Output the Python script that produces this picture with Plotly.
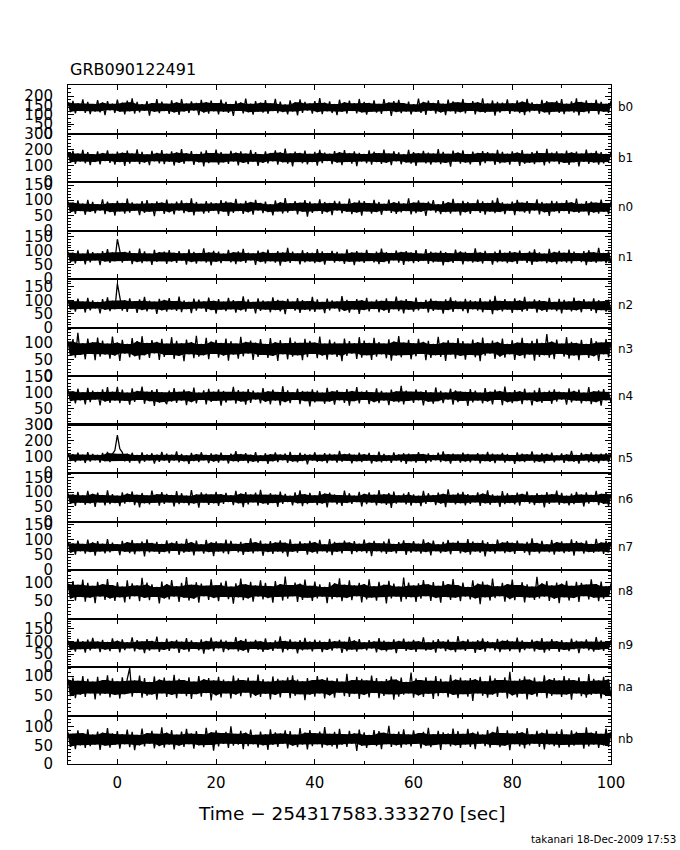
import numpy as np
import plotly.graph_objects as go
from plotly.subplots import make_subplots

title = "GRB090122491"
x_title = "Time − 254317583.333270 [sec]"
footer = "takanari 18-Dec-2009 17:53"

detectors = ["b0", "b1", "n0", "n1", "n2", "n3", "n4", "n5", "n6", "n7", "n8", "n9", "na", "nb"]
t_start = -10.0   # first bin time [s]
t_bin = 0.5       # bin width [s]

b0 = [168, 115, 175, 108, 162, 121, 183, 111, 170, 104, 158, 118, 179, 113, 166, 99, 173, 124, 160, 110,
      181, 117, 165, 102, 176, 119, 188, 107, 169, 114, 157, 122, 174, 96, 163, 116, 184, 109, 171, 120,
      159, 105, 178, 113, 167, 100, 185, 118, 161, 110, 172, 123, 164, 98, 180, 112, 168, 106, 176, 119,
      163, 103, 182, 116, 170, 111, 158, 94, 175, 121, 166, 108, 187, 114, 160, 101, 173, 117, 165, 112,
      179, 106, 162, 120, 186, 109, 171, 115, 156, 102, 177, 118, 167, 97, 183, 111, 169, 123, 161, 107,
      174, 114, 190, 104, 165, 119, 172, 110, 158, 99, 181, 116, 168, 106, 176, 121, 162, 108, 185, 113,
      170, 101, 164, 117, 178, 112, 159, 105, 184, 120, 166, 95, 173, 115, 180, 109, 163, 118, 171, 103,
      157, 116, 187, 110, 169, 100, 176, 122, 164, 107, 179, 113, 160, 98, 182, 119, 172, 106, 167, 114,
      185, 108, 163, 121, 174, 103, 168, 115, 189, 111, 161, 117, 177, 96, 170, 112, 165, 120, 183, 105,
      162, 118, 178, 109, 171, 99, 186, 114, 166, 122, 158, 106, 180, 113, 173, 101, 167, 117, 175, 110,
      184, 104, 160, 119, 172, 112, 188, 97, 169, 115, 177, 108, 164, 121, 181, 102, 170, 116, 159, 111,
      176]

b1 = [182, 121, 193, 112, 176, 127, 199, 116, 185, 104, 172, 124, 190, 109, 179, 130, 196, 118, 174, 107,
      188, 123, 181, 99, 194, 114, 177, 126, 202, 111, 186, 120, 171, 105, 192, 128, 180, 115, 197, 110,
      175, 125, 189, 102, 183, 119, 204, 113, 178, 129, 191, 106, 173, 122, 187, 97, 195, 117, 179, 124,
      200, 108, 184, 121, 174, 112, 193, 127, 181, 103, 189, 118, 176, 110, 198, 125, 185, 100, 172, 119,
      190, 115, 179, 128, 196, 107, 183, 122, 206, 113, 177, 96, 188, 126, 180, 116, 194, 109, 174, 123,
      186, 101, 199, 117, 182, 130, 175, 111, 191, 120, 184, 105, 197, 124, 178, 114, 189, 98, 180, 127,
      173, 116, 195, 108, 187, 123, 179, 112, 201, 119, 176, 104, 190, 128, 183, 110, 172, 121, 198, 114,
      185, 99, 178, 125, 192, 115, 181, 107, 176, 122, 203, 111, 187, 118, 174, 95, 194, 126, 182, 113,
      196, 120, 173, 109, 188, 124, 180, 102, 191, 117, 184, 129, 177, 106, 199, 115, 186, 121, 175, 108,
      189, 126, 182, 100, 197, 113, 174, 119, 185, 110, 193, 123, 179, 103, 205, 116, 181, 127, 190, 111,
      177, 118, 194, 106, 183, 122, 188, 97, 176, 125, 200, 112, 180, 120, 192, 108, 185, 115, 173, 124,
      187]

n0 = [96, 60, 92, 55, 99, 64, 89, 52, 101, 62, 94, 57, 87, 66, 103, 54, 95, 61, 90, 49,
      98, 63, 91, 56, 105, 59, 93, 65, 88, 51, 97, 58, 100, 62, 90, 47, 96, 64, 92, 55,
      102, 60, 89, 53, 95, 66, 99, 57, 91, 61, 106, 50, 94, 63, 88, 56, 97, 59, 93, 65,
      90, 54, 100, 62, 96, 48, 92, 58, 104, 64, 89, 55, 98, 60, 94, 52, 101, 66, 91, 57,
      95, 61, 87, 50, 99, 63, 93, 56, 107, 59, 90, 65, 97, 53, 92, 62, 100, 46, 95, 58,
      89, 64, 103, 55, 94, 60, 91, 51, 98, 66, 96, 57, 88, 62, 105, 54, 92, 59, 99, 49,
      97, 63, 90, 56, 101, 61, 94, 52, 88, 65, 102, 58, 93, 55, 96, 60, 89, 64, 106, 53,
      92, 57, 99, 62, 91, 48, 95, 66, 100, 59, 87, 54, 97, 61, 93, 56, 104, 63, 90, 50,
      98, 60, 94, 55, 89, 64, 102, 58, 96, 52, 91, 62, 99, 57, 108, 61, 93, 54, 88, 65,
      95, 51, 101, 63, 92, 59, 97, 56, 90, 66, 103, 53, 94, 60, 89, 48, 98, 62, 96, 57,
      91, 64, 100, 55, 93, 61, 105, 58, 88, 63, 97, 50, 95, 59, 92, 56, 102, 62, 90, 54,
      96]

n1 = [97, 61, 93, 55, 101, 64, 90, 52, 104, 59, 95, 66, 91, 49, 99, 62, 106, 57, 94, 63,
      141, 104, 58, 96, 65, 100, 53, 92, 60, 108, 56, 98, 63, 90, 50, 103, 61, 95, 64, 97,
      54, 102, 62, 93, 57, 99, 65, 91, 51, 105, 60, 96, 55, 92, 63, 109, 58, 94, 48, 100,
      61, 97, 56, 90, 64, 103, 59, 95, 53, 98, 62, 107, 57, 93, 66, 91, 50, 101, 60, 96,
      55, 104, 63, 92, 58, 99, 47, 94, 61, 110, 57, 97, 64, 91, 52, 102, 59, 95, 62, 93,
      56, 106, 60, 98, 51, 92, 65, 100, 58, 96, 63, 90, 54, 105, 61, 94, 49, 99, 62, 93,
      57, 103, 64, 91, 59, 97, 53, 108, 60, 95, 55, 92, 66, 101, 58, 96, 50, 99, 63, 94,
      56, 102, 61, 90, 65, 106, 54, 97, 59, 93, 62, 100, 48, 95, 60, 91, 57, 104, 64, 98,
      52, 96, 63, 92, 58, 109, 61, 94, 55, 100, 64, 91, 51, 97, 59, 103, 62, 93, 56, 99,
      60, 95, 54, 101, 65, 92, 57, 98, 50, 105, 61, 94, 63, 90, 56, 107, 59, 96, 53, 100,
      62, 93, 58, 104, 55, 97, 64, 91, 60, 99, 49, 102, 61, 95, 57, 110, 63, 92, 56, 98,
      60]

n2 = [101, 66, 97, 58, 106, 68, 95, 55, 109, 63, 99, 70, 94, 52, 104, 65, 111, 60, 98, 67,
      161, 118, 62, 100, 57, 107, 69, 96, 54, 103, 64, 112, 59, 98, 67, 95, 50, 105, 63, 101,
      58, 108, 66, 97, 61, 113, 56, 99, 68, 94, 53, 106, 62, 102, 70, 96, 57, 110, 64, 98,
      51, 104, 65, 95, 60, 109, 67, 100, 55, 97, 63, 114, 58, 103, 69, 94, 52, 107, 61, 99,
      66, 96, 56, 111, 64, 101, 59, 98, 49, 105, 68, 95, 62, 108, 54, 100, 65, 97, 60, 112,
      57, 103, 67, 94, 53, 106, 63, 99, 70, 96, 58, 115, 61, 101, 55, 97, 66, 104, 50, 100,
      64, 109, 59, 95, 68, 102, 56, 98, 62, 107, 54, 96, 67, 113, 60, 99, 52, 104, 65, 97,
      58, 110, 63, 94, 69, 101, 55, 106, 61, 98, 66, 96, 51, 103, 64, 111, 57, 99, 68, 95,
      60, 105, 53, 100, 67, 97, 62, 108, 56, 95, 65, 102, 49, 116, 63, 98, 59, 104, 66, 96,
      54, 107, 64, 99, 58, 112, 61, 95, 69, 103, 55, 100, 62, 97, 57, 109, 66, 94, 60, 105,
      52, 101, 65, 96, 59, 110, 63, 98, 56, 104, 68, 95, 61, 107, 53, 100, 64, 97, 58, 102,
      62]

n3 = [103, 60, 110, 55, 129, 63, 98, 50, 112, 66, 101, 47, 115, 58, 106, 64, 97, 52, 118, 61,
      100, 45, 108, 67, 96, 56, 113, 59, 104, 49, 119, 62, 99, 54, 107, 68, 102, 48, 111, 57,
      97, 63, 116, 51, 105, 60, 98, 44, 109, 65, 101, 53, 120, 58, 96, 62, 114, 50, 103, 66,
      108, 55, 99, 61, 112, 46, 104, 64, 97, 52, 117, 59, 102, 67, 106, 48, 100, 57, 110, 63,
      96, 54, 113, 60, 101, 45, 107, 65, 98, 50, 115, 58, 103, 62, 99, 47, 111, 56, 105, 66,
      100, 53, 118, 61, 97, 49, 109, 64, 102, 57, 96, 44, 112, 60, 104, 67, 98, 51, 116, 55,
      106, 62, 99, 48, 114, 58, 101, 65, 97, 53, 110, 46, 103, 61, 119, 56, 100, 63, 108, 50,
      98, 59, 111, 66, 102, 47, 105, 54, 96, 62, 117, 57, 100, 45, 107, 64, 99, 52, 113, 60,
      104, 49, 97, 63, 109, 56, 101, 44, 115, 61, 98, 67, 106, 51, 102, 58, 112, 55, 96, 65,
      107, 48, 100, 60, 114, 53, 98, 64, 105, 46, 111, 57, 99, 62, 125, 55, 103, 50, 109, 66,
      97, 58, 116, 52, 102, 61, 99, 47, 108, 63, 96, 54, 113, 59, 104, 45, 100, 65, 110, 56,
      101]

n4 = [108, 73, 104, 66, 112, 76, 101, 63, 115, 70, 106, 78, 102, 60, 110, 72, 117, 68, 103, 75,
      118, 67, 109, 74, 100, 62, 113, 71, 105, 77, 119, 65, 103, 73, 108, 58, 111, 69, 101, 76,
      64, 106, 72, 114, 68, 102, 75, 109, 61, 104, 70, 116, 66, 100, 77, 107, 63, 112, 71, 103,
      74, 110, 59, 105, 69, 101, 76, 118, 65, 108, 72, 103, 62, 111, 68, 106, 78, 100, 66, 114,
      71, 104, 63, 109, 75, 102, 60, 120, 70, 107, 67, 101, 77, 112, 64, 105, 73, 103, 57, 110,
      69, 106, 74, 100, 65, 115, 72, 104, 62, 108, 76, 102, 68, 111, 59, 105, 73, 117, 66, 103,
      77, 107, 64, 101, 70, 113, 67, 105, 75, 100, 61, 109, 72, 104, 69, 121, 63, 106, 74, 102,
      68, 110, 76, 103, 60, 108, 71, 101, 65, 116, 73, 105, 67, 100, 78, 112, 62, 107, 70, 104,
      74, 102, 58, 111, 69, 106, 75, 100, 66, 114, 72, 103, 63, 109, 77, 105, 61, 119, 70, 101,
      67, 108, 73, 104, 64, 112, 76, 100, 60, 107, 71, 115, 68, 102, 74, 106, 65, 110, 72, 103,
      78, 101, 62, 113, 69, 105, 75, 109, 66, 100, 73, 117, 64, 104, 70, 107, 59, 111, 76, 102,
      68]

n5 = [121, 74, 116, 68, 126, 77, 113, 62, 129, 71, 118, 79, 112, 65, 124, 73, 131, 67, 117, 140,
      235, 150, 128, 72, 119, 64, 125, 76, 111, 60, 127, 70, 115, 78, 122, 58, 114, 69, 130, 75,
      120, 63, 113, 77, 133, 66, 118, 72, 110, 56, 124, 74, 116, 68, 128, 79, 112, 61, 121, 71,
      115, 65, 126, 78, 111, 59, 119, 73, 135, 67, 117, 76, 123, 62, 113, 70, 129, 64, 110, 75,
      122, 57, 116, 72, 127, 68, 114, 79, 120, 63, 131, 71, 112, 66, 125, 74, 118, 54, 115, 77,
      128, 69, 111, 73, 123, 61, 119, 78, 114, 65, 136, 70, 117, 75, 121, 60, 113, 72, 126, 67,
      116, 76, 124, 59, 112, 71, 132, 66, 118, 74, 110, 63, 127, 77, 115, 68, 122, 56, 119, 72,
      114, 65, 129, 75, 117, 62, 121, 70, 111, 79, 125, 67, 134, 73, 116, 58, 120, 76, 113, 64,
      126, 71, 118, 66, 112, 77, 123, 60, 115, 73, 130, 69, 119, 62, 114, 78, 124, 65, 117, 74,
      111, 57, 127, 72, 120, 68, 116, 76, 133, 64, 113, 70, 122, 61, 118, 75, 125, 67, 110, 79,
      121, 63, 115, 73, 137, 69, 112, 58, 124, 77, 117, 66, 128, 71, 114, 62, 119, 76, 123, 68,
      116]

n6 = [96, 60, 92, 53, 101, 64, 89, 57, 104, 62, 94, 50, 98, 65, 90, 55, 106, 59, 93, 63,
      88, 52, 99, 61, 95, 66, 102, 56, 91, 48, 97, 62, 89, 58, 105, 64, 93, 54, 100, 60,
      94, 65, 90, 51, 103, 59, 96, 63, 88, 55, 107, 61, 92, 47, 99, 64, 95, 57, 91, 62,
      101, 53, 93, 60, 97, 66, 89, 56, 104, 62, 95, 49, 100, 58, 92, 65, 98, 54, 108, 61,
      90, 57, 96, 63, 91, 50, 102, 60, 94, 66, 88, 55, 99, 62, 106, 52, 93, 59, 97, 64,
      89, 56, 103, 61, 95, 48, 98, 65, 92, 58, 90, 53, 105, 63, 96, 60, 88, 66, 101, 51,
      94, 59, 99, 64, 91, 55, 107, 62, 93, 57, 97, 46, 102, 61, 89, 65, 95, 58, 100, 54,
      92, 63, 88, 52, 104, 60, 96, 66, 90, 56, 98, 61, 94, 49, 109, 64, 91, 58, 97, 62,
      101, 55, 93, 60, 89, 65, 99, 53, 95, 62, 106, 57, 92, 64, 88, 50, 103, 59, 96, 63,
      90, 58, 98, 54, 94, 66, 102, 61, 89, 56, 96, 63, 91, 48, 100, 60, 93, 65, 105, 57,
      97, 62, 88, 55, 95, 59, 101, 64, 92, 51, 99, 61, 90, 66, 104, 56, 94, 60, 98, 53,
      93]

n7 = [93, 57, 88, 51, 97, 62, 86, 54, 100, 59, 91, 47, 95, 61, 87, 55, 102, 58, 90, 63,
      85, 49, 96, 60, 92, 56, 99, 52, 88, 62, 94, 45, 101, 58, 89, 61, 93, 53, 86, 59,
      98, 55, 90, 63, 95, 50, 87, 57, 103, 60, 92, 48, 97, 62, 85, 54, 99, 59, 91, 46,
      94, 61, 88, 56, 100, 52, 96, 63, 86, 58, 93, 50, 89, 60, 104, 55, 92, 62, 97, 47,
      87, 59, 95, 53, 91, 61, 98, 56, 90, 44, 101, 60, 86, 57, 94, 63, 88, 51, 96, 58,
      92, 54, 99, 62, 85, 57, 102, 49, 93, 60, 89, 55, 97, 63, 91, 52, 95, 59, 87, 61,
      100, 56, 90, 46, 96, 62, 88, 58, 94, 53, 103, 60, 86, 55, 92, 63, 98, 50, 89, 57,
      95, 61, 87, 54, 101, 59, 91, 48, 97, 62, 85, 56, 93, 60, 99, 52, 90, 63, 96, 55,
      88, 58, 102, 51, 94, 61, 89, 57, 98, 45, 92, 60, 86, 54, 100, 62, 91, 56, 95, 59,
      90, 53, 97, 63, 87, 57, 93, 49, 104, 60, 89, 55, 96, 62, 85, 58, 99, 51, 92, 61,
      94, 56, 88, 60, 101, 47, 95, 62, 90, 54, 97, 59, 86, 57, 103, 61, 91, 53, 96, 58,
      89]

n8 = [97, 55, 104, 50, 94, 60, 108, 47, 99, 58, 91, 43, 102, 61, 96, 52, 110, 56, 93, 49,
      101, 59, 89, 45, 106, 54, 98, 62, 92, 48, 113, 57, 100, 51, 95, 60, 88, 42, 103, 56,
      96, 53, 107, 61, 90, 46, 99, 58, 115, 50, 94, 55, 101, 44, 97, 62, 91, 52, 109, 57,
      93, 48, 100, 60, 105, 54, 89, 41, 98, 59, 111, 51, 95, 56, 102, 47, 92, 61, 106, 53,
      99, 57, 90, 44, 104, 60, 96, 50, 117, 55, 93, 62, 100, 46, 97, 52, 108, 58, 91, 49,
      103, 56, 95, 61, 88, 43, 101, 54, 98, 59, 112, 48, 94, 57, 106, 51, 92, 62, 99, 45,
      96, 53, 109, 58, 90, 50, 102, 60, 94, 42, 105, 56, 97, 61, 89, 47, 114, 54, 100, 59,
      92, 46, 98, 55, 107, 62, 95, 49, 101, 57, 91, 44, 104, 60, 96, 52, 110, 58, 93, 48,
      100, 61, 88, 53, 106, 56, 97, 40, 103, 59, 94, 50, 111, 57, 90, 62, 99, 47, 96, 54,
      108, 51, 93, 60, 101, 45, 95, 58, 89, 52, 116, 56, 98, 61, 104, 49, 92, 55, 100, 43,
      97, 59, 105, 50, 91, 57, 102, 46, 99, 62, 94, 53, 109, 58, 96, 48, 103, 55, 90, 60,
      98]

n9 = [104, 67, 99, 60, 110, 70, 101, 56, 107, 65, 114, 72, 100, 58, 106, 68, 98, 62, 112, 71,
      103, 57, 108, 66, 97, 73, 116, 61, 105, 69, 100, 54, 109, 64, 102, 70, 119, 59, 98, 67,
      111, 63, 101, 72, 106, 55, 99, 68, 113, 60, 104, 71, 97, 65, 108, 52, 102, 69, 115, 62,
      100, 73, 107, 58, 103, 66, 98, 70, 117, 61, 105, 64, 110, 56, 99, 71, 106, 67, 101, 59,
      112, 68, 97, 63, 104, 72, 120, 57, 102, 66, 108, 70, 99, 53, 105, 65, 114, 69, 100, 61,
      107, 71, 103, 58, 98, 67, 110, 64, 101, 73, 106, 55, 99, 62, 118, 68, 104, 60, 109, 70,
      97, 65, 105, 72, 100, 57, 113, 66, 103, 61, 98, 69, 108, 54, 102, 71, 111, 63, 99, 67,
      106, 59, 101, 70, 116, 64, 97, 68, 104, 56, 109, 72, 100, 62, 107, 66, 98, 58, 121, 69,
      102, 63, 108, 71, 99, 55, 105, 67, 112, 60, 101, 73, 97, 65, 110, 58, 103, 69, 106, 62,
      100, 70, 115, 57, 104, 66, 98, 72, 107, 61, 102, 68, 113, 56, 99, 64, 109, 71, 101, 59,
      105, 67, 97, 62, 111, 69, 103, 54, 100, 72, 108, 65, 98, 60, 117, 68, 104, 63, 99, 71,
      106]

na = [91, 49, 96, 44, 88, 53, 100, 47, 93, 56, 86, 41, 98, 51, 90, 55, 102, 46, 94, 52,
      87, 43, 97, 54, 92, 120, 48, 89, 57, 101, 45, 95, 50, 85, 53, 99, 40, 91, 56, 96,
      47, 88, 52, 103, 44, 93, 55, 90, 49, 97, 42, 86, 54, 100, 48, 92, 57, 95, 38, 89,
      51, 98, 46, 91, 56, 87, 43, 101, 53, 94, 49, 90, 58, 96, 45, 88, 50, 104, 47, 92,
      55, 86, 41, 99, 52, 93, 46, 89, 57, 97, 44, 102, 50, 91, 54, 87, 39, 95, 53, 90,
      48, 100, 56, 92, 43, 96, 51, 88, 45, 94, 58, 86, 49, 106, 47, 90, 55, 98, 42, 93,
      52, 89, 46, 101, 57, 95, 44, 87, 50, 92, 54, 99, 40, 91, 48, 96, 53, 85, 56, 109,
      45, 94, 51, 90, 47, 97, 55, 88, 42, 100, 49, 93, 57, 86, 46, 103, 52, 91, 44, 96,
      54, 89, 48, 95, 37, 92, 56, 98, 50, 87, 45, 101, 53, 94, 47, 90, 58, 97, 43, 111,
      51, 88, 46, 93, 55, 99, 41, 91, 52, 96, 48, 86, 57, 102, 44, 92, 50, 95, 54, 89,
      47, 100, 53, 94, 40, 90, 56, 97, 49, 87, 45, 105, 52, 93, 55, 89, 43, 98, 51, 92,
      48]

nb = [85, 46, 81, 40, 90, 50, 83, 43, 93, 48, 79, 52, 87, 38, 84, 49, 96, 44, 82, 51,
      88, 41, 80, 53, 92, 45, 86, 37, 78, 50, 95, 47, 83, 54, 89, 42, 81, 48, 98, 44,
      84, 52, 91, 39, 79, 49, 87, 46, 94, 53, 82, 41, 88, 50, 80, 45, 97, 51, 85, 36,
      90, 47, 83, 54, 86, 43, 101, 49, 81, 52, 89, 40, 84, 48, 92, 53, 78, 44, 87, 50,
      80, 38, 93, 51, 85, 46, 82, 54, 90, 42, 88, 49, 79, 45, 96, 52, 84, 39, 91, 48,
      83, 53, 87, 44, 99, 50, 81, 47, 86, 41, 94, 52, 80, 46, 89, 54, 82, 35, 92, 49,
      85, 43, 78, 51, 91, 48, 88, 40, 84, 53, 102, 46, 81, 50, 87, 44, 93, 52, 79, 47,
      90, 54, 83, 42, 86, 49, 97, 45, 80, 51, 89, 38, 85, 53, 82, 47, 95, 50, 88, 43,
      81, 52, 94, 46, 84, 40, 87, 54, 79, 48, 91, 44, 86, 51, 100, 45, 83, 49, 90, 37,
      82, 53, 88, 47, 85, 42, 96, 50, 80, 54, 89, 46, 84, 39, 92, 52, 81, 48, 87, 44,
      93, 51, 79, 45, 90, 49, 86, 53, 83, 41, 98, 47, 84, 52, 88, 43, 81, 50, 95, 46,
      85]

series = [b0, b1, n0, n1, n2, n3, n4, n5, n6, n7, n8, n9, na, nb]

# y-axis range tops and labelled ticks per detector panel
y_top = [260, 300, 160, 172, 178, 145, 152, 300, 165, 160, 135, 190, 123, 130]
y_labels = [[0, 50, 100, 150, 200], [0, 100, 200, 300], [0, 50, 100, 150], [0, 50, 100, 150],
            [0, 50, 100, 150], [0, 50, 100], [0, 50, 100, 150], [0, 100, 200, 300],
            [0, 50, 100, 150], [0, 50, 100, 150], [0, 50, 100], [0, 50, 100, 150],
            [0, 50, 100], [0, 50, 100]]
x_labels = [0, 20, 40, 60, 80, 100]
x_range = [-10, 100]

FONT = "DejaVu Sans"


def rolling3(a, fn):
    p = np.r_[a[0], a, a[-1]]
    return fn(np.vstack([p[:-2], p[1:-1], p[2:]]), axis=0)


n_rows = len(series)
fig = make_subplots(rows=n_rows, cols=1, shared_xaxes=True, vertical_spacing=0)

for i, (name, vals) in enumerate(zip(detectors, series)):
    v = np.asarray(vals, dtype=float)
    t = t_start + t_bin * np.arange(len(v))
    # dense core of the light curve: band between the smoothed local minima / maxima
    is_max = np.r_[v[0] >= v[1], (v[1:-1] >= v[:-2]) & (v[1:-1] >= v[2:]), v[-1] >= v[-2]]
    is_min = np.r_[v[0] <= v[1], (v[1:-1] <= v[:-2]) & (v[1:-1] <= v[2:]), v[-1] <= v[-2]]
    core_hi = rolling3(v[is_max], np.min)
    core_lo = rolling3(v[is_min], np.max)
    fig.add_trace(go.Scatter(x=t[is_min], y=core_lo, mode="lines",
                             line=dict(color="black", width=0),
                             showlegend=False, hoverinfo="skip"),
                  row=i + 1, col=1)
    fig.add_trace(go.Scatter(x=t[is_max], y=core_hi, mode="lines", fill="tonexty",
                             fillcolor="black", line=dict(color="black", width=0),
                             showlegend=False, hoverinfo="skip"),
                  row=i + 1, col=1)
    # the light curve itself
    fig.add_trace(go.Scatter(x=t, y=v, mode="lines",
                             line=dict(color="black", width=1.3),
                             showlegend=False, hoverinfo="skip"),
                  row=i + 1, col=1)
    minor_step = 20 if y_top[i] > 250 else 10
    fig.update_yaxes(row=i + 1, col=1, range=[0, y_top[i]], tickmode="array",
                     tickvals=y_labels[i], ticktext=[str(val) for val in y_labels[i]],
                     ticks="inside", ticklen=6, tickwidth=1, tickcolor="black",
                     showline=True, linecolor="black", linewidth=1, mirror="allticks",
                     showgrid=False, zeroline=False, fixedrange=True, automargin=False,
                     tickfont=dict(family=FONT, size=15, color="black"),
                     ticklabelstandoff=11,
                     minor=dict(ticks="inside", ticklen=3, tickwidth=1, tickcolor="black",
                                tickmode="linear", tick0=0, dtick=minor_step, showgrid=False))
    yref = "y" if i == 0 else f"y{i + 1}"
    fig.add_annotation(text=name, xref="paper", x=1, xanchor="left", xshift=5,
                       yref=yref, y=float(np.mean(v)), yanchor="middle",
                       showarrow=False, font=dict(family=FONT, size=12, color="black"))

fig.update_xaxes(range=x_range, tickmode="array", tickvals=x_labels,
                 ticktext=[str(val) for val in x_labels],
                 ticks="inside", ticklen=5, tickwidth=1, tickcolor="black",
                 showline=True, linecolor="black", linewidth=1, mirror="allticks",
                 showgrid=False, zeroline=False, fixedrange=True, automargin=False,
                 minor=dict(ticks="inside", ticklen=3, tickwidth=1, tickcolor="black",
                            tickmode="linear", tick0=0, dtick=10, showgrid=False))
fig.update_xaxes(row=n_rows, col=1, showticklabels=True,
                 tickfont=dict(family=FONT, size=15, color="black"), ticklabelstandoff=5)

# heavier frame line on top of the n5 panel
fig.add_shape(type="line", xref="x8 domain", yref="y8 domain", x0=0, x1=1, y0=1, y1=1,
              line=dict(color="black", width=3))

fig.add_annotation(text=title, xref="paper", yref="paper", x=0, y=1, xanchor="left",
                   yanchor="bottom", yshift=4, showarrow=False,
                   font=dict(family=FONT, size=16, color="black"))
fig.add_annotation(text=x_title, xref="paper", yref="paper", x=0.523, y=0, xanchor="center",
                   yanchor="top", yshift=-37, showarrow=False,
                   font=dict(family=FONT, size=18.5, color="black"))
fig.add_annotation(text=footer, xref="paper", yref="paper", x=1, y=0, xanchor="right",
                   yanchor="top", xshift=67, yshift=-67, showarrow=False,
                   font=dict(family=FONT, size=10.3, color="black"))

fig.update_layout(width=680, height=850, margin=dict(l=68, r=69, t=85, b=86),
                  paper_bgcolor="white", plot_bgcolor="white", hovermode=False)

# remove the page's default body margin so the figure fills the window exactly
fig.write_html("out.html", config={"displayModeBar": False},
               post_script="document.body.style.margin='0px';")
